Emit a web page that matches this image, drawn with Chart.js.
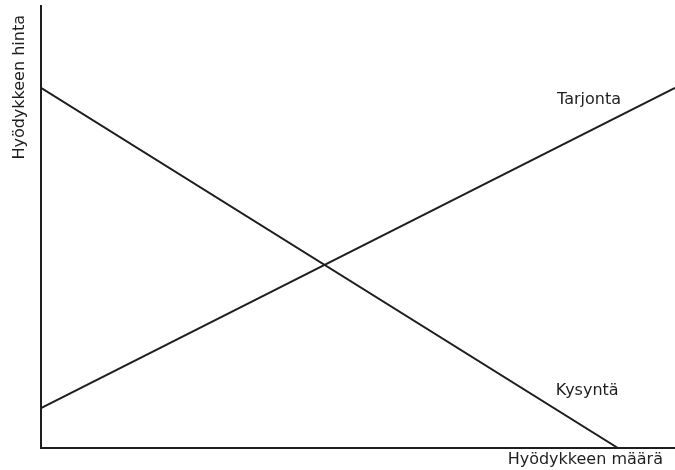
<!DOCTYPE html>
<html>
<head>
<meta charset="utf-8">
<script src="https://cdn.jsdelivr.net/npm/chart.js@4.4.0/dist/chart.umd.min.js"></script>
<style>
  html, body { margin: 0; padding: 0; background: #fff; }
  #wrap { width: 675px; height: 470px; position: relative; }
</style>
</head>
<body>
<div id="wrap"><canvas id="c"></canvas></div>
<script>
// Supply and demand lines (0..100 on both axes)
const supplyX = [0, 100];
const supplyY = [9, 81.5];
const demandX = [0, 91];
const demandY = [81.5, 0];

const seriesNames = ['Tarjonta', 'Kysyntä'];
const xTitle = 'Hyödykkeen määrä';
const yTitle = 'Hyödykkeen hinta';

// where the curve names sit, in data units
const labelX = [81.4, 81.2];
const labelY = [78.7, 12.9];

const INK = '#1e1e1e';
const FONT = '16px "DejaVu Sans"';

const toPts = (xs, ys) => xs.map((x, i) => ({ x, y: ys[i] }));

// Curve names and axis titles, drawn by hand so they sit where the sketch has them
const annotations = {
    id: 'annotations',
    afterDatasetsDraw(chart) {
        const { ctx, scales, chartArea } = chart;
        ctx.save();
        ctx.fillStyle = INK;
        ctx.font = FONT;
        ctx.textAlign = 'left';
        ctx.textBaseline = 'middle';
        seriesNames.forEach((name, i) => {
            ctx.fillText(name, scales.x.getPixelForValue(labelX[i]), scales.y.getPixelForValue(labelY[i]));
        });

        // x title under the axis, right side
        ctx.textAlign = 'right';
        ctx.fillText(xTitle, chartArea.right - 12, chartArea.bottom + 12);

        // y title rotated, near the top
        ctx.translate(chartArea.left - 21, chartArea.top + 9);
        ctx.rotate(-Math.PI / 2);
        ctx.textAlign = 'right';
        ctx.fillText(yTitle, 0, 0);
        ctx.restore();
    },
};

const line = (data) => ({
    data,
    showLine: true,
    borderColor: INK,
    borderWidth: 2,
    pointRadius: 0,
    fill: false,
});

new Chart(document.getElementById('c'), {
    type: 'scatter',
    data: {
        datasets: [
            line(toPts(supplyX, supplyY)),
            line(toPts(demandX, demandY)),
        ],
    },
    options: {
        responsive: true,
        maintainAspectRatio: false,
        animation: false,
        layout: { padding: { top: 6, right: 0, bottom: 14, left: 33 } },
        plugins: { legend: { display: false }, tooltip: { enabled: false } },
        scales: {
            x: {
                type: 'linear',
                min: 0,
                max: 100,
                grid: { display: false },
                ticks: { display: false, padding: 0 },
                border: { display: true, color: INK, width: 2 },
            },
            y: {
                type: 'linear',
                min: 0,
                max: 100,
                grid: { display: false },
                ticks: { display: false, padding: 0 },
                border: { display: true, color: INK, width: 2 },
            },
        },
    },
    plugins: [annotations],
});
</script>
</body>
</html>
